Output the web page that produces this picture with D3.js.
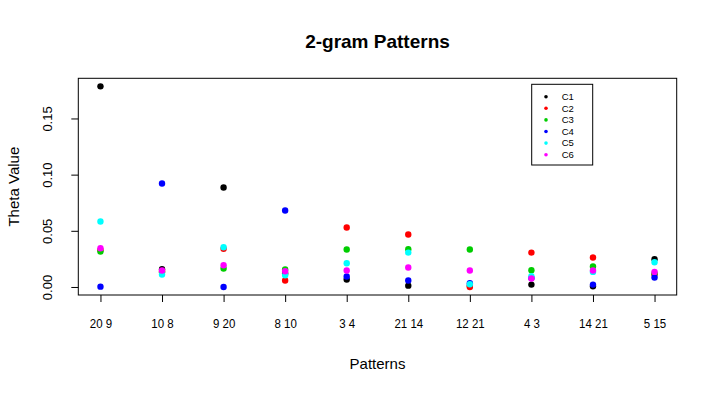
<!DOCTYPE html>
<html>
<head>
<meta charset="utf-8">
<script src="https://cdn.jsdelivr.net/npm/d3@7"></script>
<style>
  body { margin: 0; background: #fff; }
  text { font-family: "Liberation Sans", Arial, sans-serif; fill: #000; }
</style>
</head>
<body>
<div id="chart"></div>
<script>
// data
var patterns = ["20 9", "10 8", "9 20", "8 10", "3 4", "21 14", "12 21", "4 3", "14 21", "5 15"];
var seriesNames = ["C1", "C2", "C3", "C4", "C5", "C6"];
var seriesColors = ["#000000", "#FF0000", "#00CD00", "#0000FF", "#00FFFF", "#FF00FF"];
var c1 = [0.1786, 0.0158, 0.0886, 0.0120, 0.0066, 0.0012, 0.0010, 0.0021, 0.0006, 0.0247];
var c2 = [0.0330, 0.0140, 0.0340, 0.0057, 0.0529, 0.0467, 0.0000, 0.0306, 0.0262, 0.0110];
var c3 = [0.0315, 0.0130, 0.0164, 0.0155, 0.0333, 0.0336, 0.0333, 0.0149, 0.0182, 0.0120];
var c4 = [0.0003, 0.0921, 0.0000, 0.0681, 0.0093, 0.0057, 0.0033, 0.0080, 0.0021, 0.0084];
var c5 = [0.0583, 0.0110, 0.0354, 0.0104, 0.0211, 0.0306, 0.0024, 0.0095, 0.0134, 0.0220];
var c6 = [0.0345, 0.0146, 0.0193, 0.0140, 0.0146, 0.0173, 0.0146, 0.0075, 0.0146, 0.0134];
var yTicks = [0, 0.05, 0.10, 0.15];

var series = [c1, c2, c3, c4, c5, c6];

var width = 717;
var height = 393;
var margin = {top: 78.3, right: 40.3, bottom: 98, left: 78.3};
var plotW = width - margin.left - margin.right;
var plotH = height - margin.top - margin.bottom;

var svg = d3.select("#chart")
  .append("svg")
  .attr("width", width)
  .attr("height", height);

// R style 4% extension of the ranges
var yMax = d3.max(series, function(s){ return d3.max(s); });
var yMin = d3.min(series, function(s){ return d3.min(s); });
var yPad = (yMax - yMin) * 0.04;

var x = d3.scaleLinear()
  .domain([1 - 0.36, patterns.length + 0.36])
  .range([margin.left, margin.left + plotW]);

var y = d3.scaleLinear()
  .domain([yMin - yPad, yMax + yPad])
  .range([margin.top + plotH, margin.top]);

// plot box
svg.append("rect")
  .attr("x", margin.left)
  .attr("y", margin.top)
  .attr("width", plotW)
  .attr("height", plotH)
  .attr("fill", "none")
  .attr("stroke", "#000")
  .attr("stroke-width", 1);

// x axis
var xAxis = d3.axisBottom(x)
  .tickValues(d3.range(1, patterns.length + 1))
  .tickSize(7)
  .tickPadding(17)
  .tickFormat(function(d){ return patterns[d - 1]; });

var gx = svg.append("g")
  .attr("transform", "translate(0," + (margin.top + plotH) + ")")
  .call(xAxis);
gx.select(".domain").remove();
gx.selectAll("text")
  .style("font-size", "12.5px")
  .attr("font-family", null)
  .attr("transform", "scale(0.92,1)");

// y axis
var yAxis = d3.axisLeft(y)
  .tickValues(yTicks)
  .tickSize(7)
  .tickFormat(d3.format(".2f"));

var gy = svg.append("g")
  .attr("transform", "translate(" + margin.left + ",0)")
  .call(yAxis);
gy.select(".domain").remove();
gy.selectAll("text")
  .style("font-size", "13px")
  .attr("font-family", null)
  .attr("x", null)
  .attr("dy", null)
  .attr("text-anchor", "middle")
  .attr("transform", "translate(-26,0) rotate(-90)");

// points
series.forEach(function(s, k){
  svg.append("g")
    .selectAll("circle")
    .data(s)
    .enter()
    .append("circle")
    .attr("cx", function(d, i){ return x(i + 1); })
    .attr("cy", function(d){ return y(d); })
    .attr("r", 3.2)
    .attr("fill", seriesColors[k]);
});

// titles
svg.append("text")
  .attr("x", margin.left + plotW / 2)
  .attr("y", 48)
  .attr("text-anchor", "middle")
  .style("font-size", "19px")
  .style("font-weight", "bold")
  .text("2-gram Patterns");

svg.append("text")
  .attr("x", margin.left + plotW / 2)
  .attr("y", 369)
  .attr("text-anchor", "middle")
  .style("font-size", "15px")
  .text("Patterns");

svg.append("text")
  .attr("transform", "translate(19," + (margin.top + plotH / 2) + ") rotate(-90)")
  .attr("text-anchor", "middle")
  .style("font-size", "15px")
  .text("Theta Value");

// legend
var legend = svg.append("g")
  .attr("transform", "translate(531.7,84.3)");

legend.append("rect")
  .attr("width", 61)
  .attr("height", 80.7)
  .attr("fill", "#fff")
  .attr("stroke", "#000");

var rows = legend.selectAll(".row")
  .data(seriesNames)
  .enter()
  .append("g")
  .attr("transform", function(d, i){ return "translate(0," + (12.4 + i * 11.6) + ")"; });

rows.append("circle")
  .attr("cx", 14.3)
  .attr("cy", 0)
  .attr("r", 1.8)
  .attr("fill", function(d, i){ return seriesColors[i]; });

rows.append("text")
  .attr("x", 30)
  .attr("dy", "0.35em")
  .style("font-size", "9.5px")
  .text(function(d){ return d; });
</script>
</body>
</html>
